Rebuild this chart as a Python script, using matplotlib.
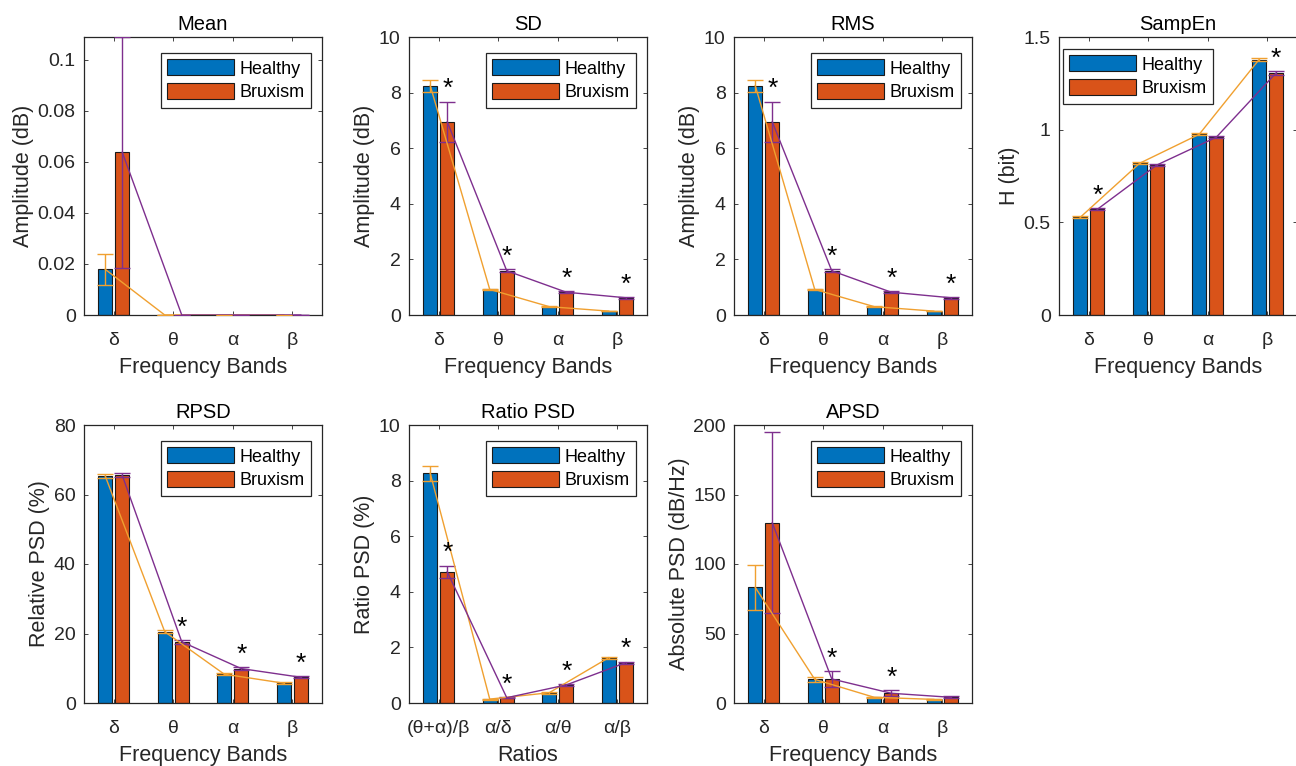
import matplotlib
matplotlib.use("Agg")
import matplotlib.pyplot as plt
import numpy as np
from matplotlib.ticker import FormatStrFormatter

plt.rcParams['font.family'] = ['Liberation Sans', 'DejaVu Sans']
plt.rcParams['axes.edgecolor'] = '#262626'
plt.rcParams['xtick.color'] = '#262626'
plt.rcParams['ytick.color'] = '#262626'

bands = ["δ", "θ", "α", "β"]
ratios = ["(θ+α)/β", "α/δ", "α/θ", "α/β"]

# Mean
mean_h = [0.0179, 0, 0, 0]
mean_h_err = [0.006, 0, 0, 0]
mean_b = [0.0638, 0, 0, 0]
mean_b_err = [0.0452, 0, 0, 0]
mean_sig = [False, False, False, False]

# SD
sd_h = [8.25, 0.92, 0.30, 0.14]
sd_h_err = [0.22, 0.03, 0.02, 0.01]
sd_b = [6.95, 1.59, 0.82, 0.62]
sd_b_err = [0.72, 0.06, 0.03, 0.03]
sd_sig = [True, True, True, True]

# RMS
rms_h = [8.25, 0.92, 0.30, 0.14]
rms_h_err = [0.22, 0.03, 0.02, 0.01]
rms_b = [6.95, 1.59, 0.82, 0.62]
rms_b_err = [0.72, 0.06, 0.03, 0.03]
rms_sig = [True, True, True, True]

# SampEn
se_h = [0.527, 0.819, 0.975, 1.376]
se_h_err = [0.005, 0.005, 0.005, 0.008]
se_b = [0.570, 0.809, 0.959, 1.304]
se_b_err = [0.006, 0.006, 0.006, 0.010]
se_sig = [True, False, False, True]

# RPSD
rp_h = [65.3, 20.5, 8.3, 5.7]
rp_h_err = [0.5, 0.4, 0.3, 0.3]
rp_b = [65.5, 17.6, 9.9, 7.4]
rp_b_err = [0.6, 0.5, 0.4, 0.3]
rp_sig = [False, True, True, True]

# Ratio PSD
ra_h = [8.26, 0.14, 0.37, 1.63]
ra_h_err = [0.28, 0.02, 0.03, 0.04]
ra_b = [4.72, 0.19, 0.65, 1.45]
ra_b_err = [0.22, 0.02, 0.03, 0.04]
ra_sig = [True, True, True, True]

# APSD
ap_h = [83.2, 17.0, 4.1, 2.6]
ap_h_err = [16.0, 2.0, 0.5, 0.4]
ap_b = [129.7, 17.3, 7.0, 4.1]
ap_b_err = [65.0, 5.5, 2.3, 0.8]
ap_sig = [False, True, True, False]

panels = [
    ("Mean", "Amplitude (dB)", "Frequency Bands", bands, mean_h, mean_h_err, mean_b, mean_b_err, mean_sig,
     (0, 0.109), [0, 0.02, 0.04, 0.06, 0.08, 0.1], "upper right"),
    ("SD", "Amplitude (dB)", "Frequency Bands", bands, sd_h, sd_h_err, sd_b, sd_b_err, sd_sig,
     (0, 10), [0, 2, 4, 6, 8, 10], "upper right"),
    ("RMS", "Amplitude (dB)", "Frequency Bands", bands, rms_h, rms_h_err, rms_b, rms_b_err, rms_sig,
     (0, 10), [0, 2, 4, 6, 8, 10], "upper right"),
    ("SampEn", "H (bit)", "Frequency Bands", bands, se_h, se_h_err, se_b, se_b_err, se_sig,
     (0, 1.5), [0, 0.5, 1, 1.5], "upper left"),
    ("RPSD", "Relative PSD (%)", "Frequency Bands", bands, rp_h, rp_h_err, rp_b, rp_b_err, rp_sig,
     (0, 80), [0, 20, 40, 60, 80], "upper right"),
    ("Ratio PSD", "Ratio PSD (%)", "Ratios", ratios, ra_h, ra_h_err, ra_b, ra_b_err, ra_sig,
     (0, 10), [0, 2, 4, 6, 8, 10], "upper right"),
    ("APSD", "Absolute PSD (dB/Hz)", "Frequency Bands", bands, ap_h, ap_h_err, ap_b, ap_b_err, ap_sig,
     (0, 200), [0, 50, 100, 150, 200], "upper right"),
]

W, H = 1296, 766
fig = plt.figure(figsize=(W / 100, H / 100), dpi=100)

col_left = [84, 409, 734, 1059]
row_top = [37, 425]
aw, ah = 238, 278

c_h, c_b = "#0072BD", "#D95319"
c_he, c_be = "#F0A030", "#7E2F8E"
off, bw = 0.143, 0.235

for i, (title, ylab, xlab, ticks, h, he, b, be, sig, ylim, yt, loc) in enumerate(panels):
    r, c = divmod(i, 4)
    ax = fig.add_axes([col_left[c] / W, 1 - (row_top[r] + ah) / H, aw / W, ah / H])
    x = np.arange(1, 5)
    ax.bar(x - off, h, bw, color=c_h, edgecolor="#1a1a1a", linewidth=0.8, label="Healthy", zorder=2)
    ax.bar(x + off, b, bw, color=c_b, edgecolor="#1a1a1a", linewidth=0.8, label="Bruxism", zorder=2)
    ax.errorbar(x - off, h, yerr=he, color=c_he, lw=1.0, capsize=6, capthick=1.0, zorder=3)
    ax.errorbar(x + off, b, yerr=be, color=c_be, lw=1.0, capsize=6, capthick=1.0, zorder=3)
    rng = ylim[1] - ylim[0]
    for k in range(4):
        if sig[k]:
            ax.text(x[k] + off, b[k] + be[k] + 0.045 * rng, "*", ha="center", va="center",
                    fontsize=19, color="black", zorder=4)
    ax.set_xlim(0.5, 4.5)
    ax.set_ylim(*ylim)
    ax.set_yticks(yt)
    ax.yaxis.set_major_formatter(FormatStrFormatter('%g'))
    ax.set_xticks(x)
    ax.set_xticklabels(ticks)
    ax.tick_params(direction="in", length=3, width=0.6, top=True, right=True, labelsize=14, pad=6)
    ax.tick_params(axis="x", pad=12)
    for s in ax.spines.values():
        s.set_linewidth(0.9)
    ax.set_title(title, fontsize=14.5, color="black", pad=5)
    ax.set_xlabel(xlab, fontsize=15.5, color="#262626", labelpad=6)
    ax.set_ylabel(ylab, fontsize=15.5, color="#262626", labelpad=2.5)
    if loc == "upper right":
        anchor = (1 - 11 / aw, 1 - 16 / ah)
    else:
        anchor = (4 / aw, 1 - 12 / ah)
    leg = ax.legend(loc=loc, bbox_to_anchor=anchor, borderaxespad=0, fontsize=13,
                    handlelength=3.7, handleheight=1.0, fancybox=False, framealpha=1,
                    edgecolor="#262626", labelspacing=0.3, handletextpad=0.3, borderpad=0.35)
    leg.get_frame().set_linewidth(0.9)

fig.savefig("out.png", dpi=100)
